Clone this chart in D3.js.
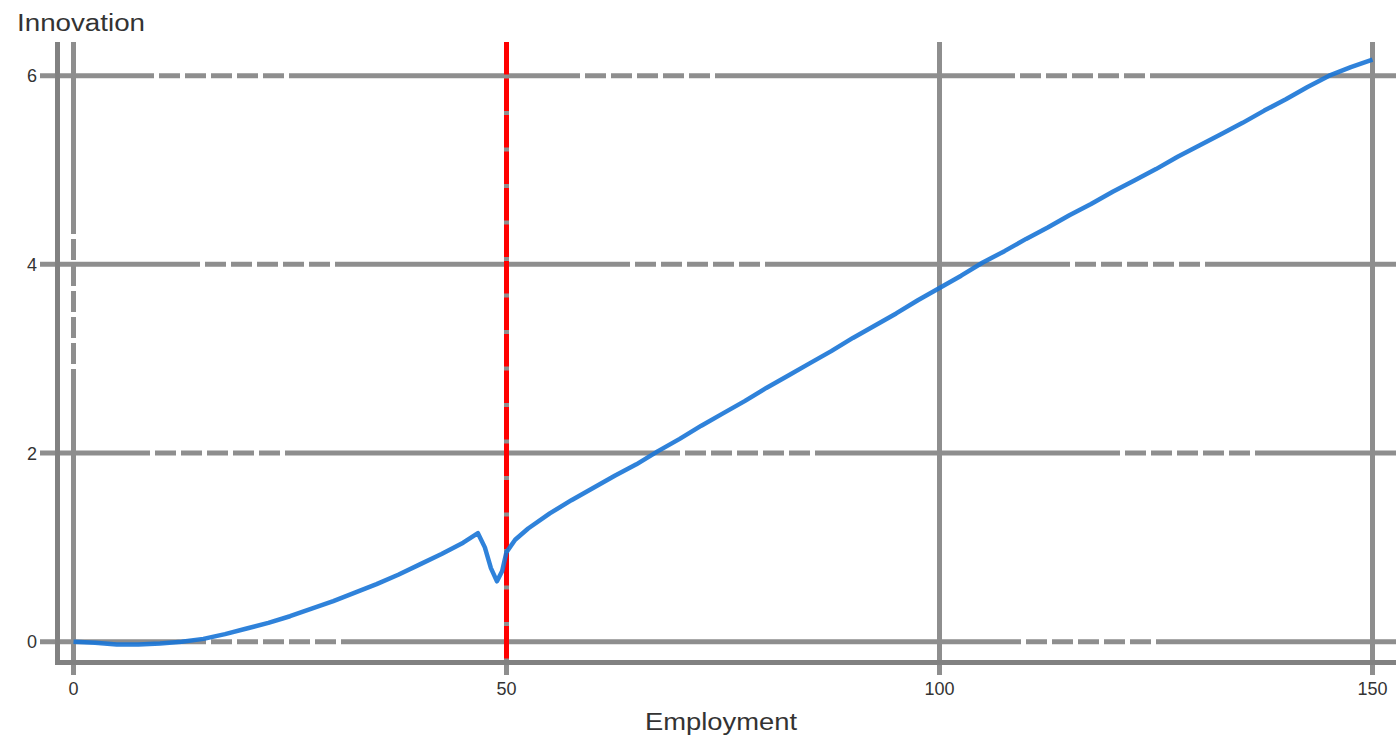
<!DOCTYPE html>
<html><head><meta charset="utf-8">
<script src="https://cdn.jsdelivr.net/npm/d3@7"></script>
<style>body{margin:0;background:#fff;} svg{display:block}</style>
</head><body><svg id="c" width="1396" height="739"></svg>
<script>
const employment = [0, 2.5, 5, 7.5, 10, 12.5, 15, 17.5, 20, 22.5, 25, 27.5, 30, 32.5, 35, 37.5, 40, 42.5, 45, 46.7, 47.5, 48.2, 48.9, 49.5, 50, 51, 52.5, 55, 57.5, 60, 62.5, 65, 67.5, 70, 72.5, 75, 77.5, 80, 82.5, 85, 87.5, 90, 92.5, 95, 97.5, 100, 102.5, 105, 107.5, 110, 112.5, 115, 117.5, 120, 122.5, 125, 127.5, 130, 132.5, 135, 137.5, 140, 142.5, 145, 147.5, 150];
const innovation = [0, -0.01, -0.03, -0.03, -0.02, 0.0, 0.03, 0.08, 0.14, 0.2, 0.27, 0.35, 0.43, 0.52, 0.61, 0.71, 0.82, 0.93, 1.05, 1.15, 1.0, 0.78, 0.64, 0.75, 0.95, 1.08, 1.2, 1.36, 1.5, 1.63, 1.76, 1.88, 2.02, 2.15, 2.29, 2.42, 2.55, 2.69, 2.82, 2.95, 3.08, 3.22, 3.35, 3.48, 3.62, 3.75, 3.88, 4.02, 4.14, 4.27, 4.39, 4.52, 4.64, 4.77, 4.89, 5.01, 5.14, 5.26, 5.38, 5.5, 5.63, 5.75, 5.88, 6.0, 6.09, 6.17];
const xTicks = [0, 50, 100, 150];
const xTickLabels = ["0", "50", "100", "150"];
const yTicks = [0, 2, 4, 6];
const yTickLabels = ["0", "2", "4", "6"];
const thresholds = [50];
const xTitle = "Employment";
const yTitle = "Innovation";

const svg = d3.select("#c");
const x = d3.scaleLinear().domain([0, 150]).range([73.5, 1372.5]);
const y = d3.scaleLinear().domain([0, 6]).range([641.7, 75.7]);
const plotTop = 42, bottomTick = 675, frameBottom = 662.5, frameLeft = 57.5, gridLeft = 40, gridRight = 1400;
const gridColor = "#8e8e8e", frameColor = "#818181";
const font = "'Liberation Sans', Arial, sans-serif";

// dashed runs inside otherwise solid grid lines (positions along the line, px)
function dashPattern(len, runs) {
  const out = []; let pos = 0;
  runs.forEach(r => {
    out.push(r - pos);            // solid part (dash)
    for (let k = 0; k < 5; k++) out.push(5, 21); // gap, dash
    out.push(5);                  // closing gap
    pos = r + 135;
  });
  out.push(Math.max(len - pos, 1), 0);
  return out.join(",");
}
const hRuns = [[166, 981], [110, 640, 1080], [160, 590, 1030], [114, 540, 975]]; // for y = 0,2,4,6
const vRuns = [[192], [], [], []];

// horizontal grid
svg.append("g").selectAll("line").data(yTicks).join("line")
  .attr("x1", gridLeft).attr("x2", gridRight).attr("y1", d => y(d)).attr("y2", d => y(d))
  .attr("stroke", gridColor).attr("stroke-width", 5)
  .attr("stroke-dasharray", (d, i) => dashPattern(gridRight - gridLeft, hRuns[i]));

// vertical grid
svg.append("g").selectAll("line").data(xTicks).join("line")
  .attr("x1", d => x(d)).attr("x2", d => x(d)).attr("y1", plotTop).attr("y2", bottomTick)
  .attr("stroke", gridColor).attr("stroke-width", 5)
  .attr("stroke-dasharray", (d, i) => dashPattern(bottomTick - plotTop, vRuns[i]));

// x tick labels
svg.append("g").selectAll("text").data(xTicks).join("text")
  .attr("x", d => x(d)).attr("y", 695).attr("text-anchor", "middle")
  .attr("font-family", font).attr("font-size", 18).attr("fill", "#333")
  .text((d, i) => xTickLabels[i]);

// y tick labels
svg.append("g").selectAll("text").data(yTicks).join("text")
  .attr("x", 32).attr("y", d => y(d) + 6.5).attr("text-anchor", "middle")
  .attr("font-family", font).attr("font-size", 18).attr("fill", "#333")
  .text((d, i) => yTickLabels[i]);

// frame
svg.append("line").attr("x1", frameLeft).attr("x2", frameLeft).attr("y1", plotTop).attr("y2", frameBottom + 2.5)
  .attr("stroke", frameColor).attr("stroke-width", 5);
svg.append("line").attr("x1", frameLeft - 2.5).attr("x2", 1396).attr("y1", frameBottom).attr("y2", frameBottom)
  .attr("stroke", frameColor).attr("stroke-width", 5);

// threshold line
svg.append("g").selectAll("line").data(thresholds).join("line")
  .attr("x1", d => x(d)).attr("x2", d => x(d)).attr("y1", plotTop).attr("y2", frameBottom)
  .attr("stroke", "#ff0000").attr("stroke-width", 5).attr("stroke-dasharray", "32.5,4");

// curve
const pts = employment.map((e, i) => [e, innovation[i]]);
svg.append("path").datum(pts)
  .attr("d", d3.line().x(d => x(d[0])).y(d => y(d[1])))
  .attr("fill", "none").attr("stroke", "#1874d6").attr("stroke-width", 4.5)
  .attr("stroke-opacity", 0.9).attr("stroke-linejoin", "round");

// titles
svg.append("text").attr("x", 17).attr("y", 31).attr("font-family", font).attr("font-size", 23)
  .attr("fill", "#333").attr("textLength", 128).attr("lengthAdjust", "spacingAndGlyphs").text(yTitle);
svg.append("text").attr("x", 645).attr("y", 730).attr("font-family", font).attr("font-size", 23)
  .attr("fill", "#333").attr("textLength", 152).attr("lengthAdjust", "spacingAndGlyphs").text(xTitle);
</script></body></html>
